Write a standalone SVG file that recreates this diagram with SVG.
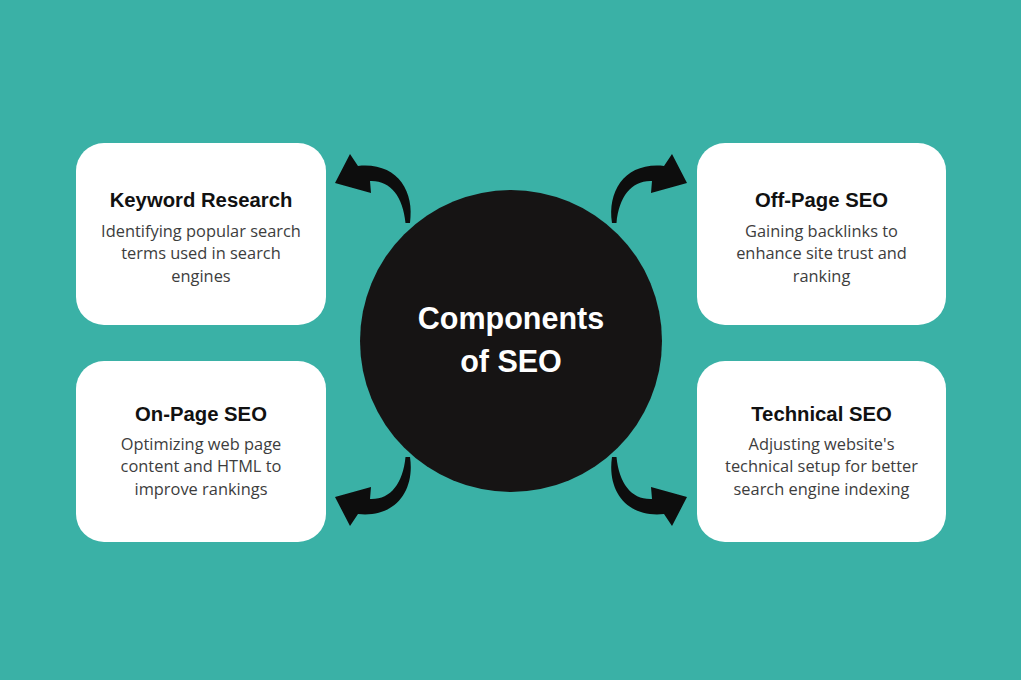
<svg xmlns="http://www.w3.org/2000/svg" xmlns:xlink="http://www.w3.org/1999/xlink" width="1021" height="680" viewBox="0 0 1021 680">
<style>
.box{fill:#ffffff}
.ttl{font-family:"Liberation Sans",Arial,sans-serif;font-weight:bold;font-size:20.3px;fill:#111111;text-anchor:middle}
.body{font-family:"Open Sans","Noto Sans",sans-serif;font-size:16.4px;fill:#3d3d3d;text-anchor:middle}
.hub{font-family:"Liberation Sans",Arial,sans-serif;font-weight:bold;font-size:30.5px;fill:#ffffff;text-anchor:middle}
.arr{fill:#0d0d0d}
</style>
<defs>
<path id="arrow" class="arr" d="M 410 223 C 415 190, 396 162, 358 166 L 350 154 L 335 183 L 371 193 L 370 181 C 390 180, 403 196, 405.5 223 Z"/>
</defs>
<rect width="1021" height="680" fill="#3ab1a6"/>
<g id="connectors">
<use xlink:href="#arrow"/>
<use xlink:href="#arrow" transform="translate(1022,0) scale(-1,1)"/>
<use xlink:href="#arrow" transform="translate(0,680) scale(1,-1)"/>
<use xlink:href="#arrow" transform="translate(1022,680) scale(-1,-1)"/>
</g>
<g id="hub">
<circle cx="511" cy="341" r="151" fill="#161414"/>
<text class="hub" x="511" y="329">Components</text>
<text class="hub" x="511" y="372">of SEO</text>
</g>
<g id="keyword-research">
<rect class="box" x="76" y="143" width="250" height="182" rx="28"/>
<text class="ttl" x="201" y="207">Keyword Research</text>
<text class="body" x="201" y="237">Identifying popular search</text>
<text class="body" x="201" y="259">terms used in search</text>
<text class="body" x="201" y="282">engines</text>
</g>
<g id="on-page-seo">
<rect class="box" x="76" y="361" width="250" height="181" rx="28"/>
<text class="ttl" x="201" y="421">On-Page SEO</text>
<text class="body" x="201" y="450">Optimizing web page</text>
<text class="body" x="201" y="472">content and HTML to</text>
<text class="body" x="201" y="495">improve rankings</text>
</g>
<g id="off-page-seo">
<rect class="box" x="697" y="143" width="249" height="182" rx="28"/>
<text class="ttl" x="821.5" y="207">Off-Page SEO</text>
<text class="body" x="821.5" y="237">Gaining backlinks to</text>
<text class="body" x="821.5" y="259">enhance site trust and</text>
<text class="body" x="821.5" y="282">ranking</text>
</g>
<g id="technical-seo">
<rect class="box" x="697" y="361" width="249" height="181" rx="28"/>
<text class="ttl" x="821.5" y="421">Technical SEO</text>
<text class="body" x="821.5" y="450">Adjusting website's</text>
<text class="body" x="821.5" y="472">technical setup for better</text>
<text class="body" x="821.5" y="495">search engine indexing</text>
</g>
</svg>
